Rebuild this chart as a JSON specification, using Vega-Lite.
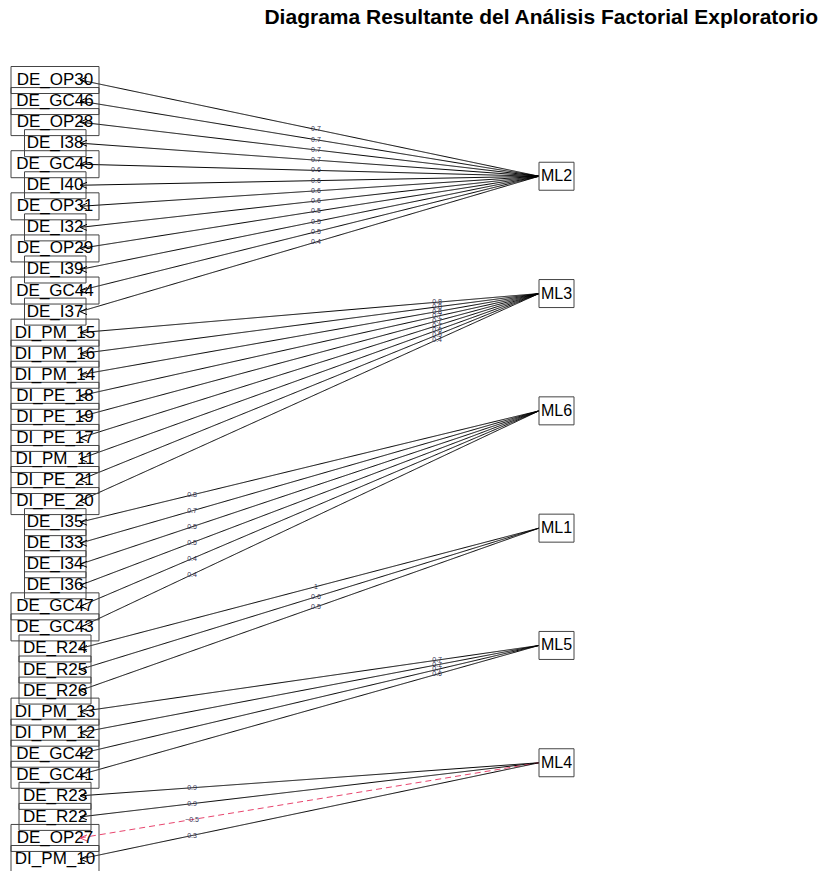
{
  "$schema": "https://vega.github.io/schema/vega-lite/v6.json",
  "width": 822,
  "height": 871,
  "autosize": {"type": "none"},
  "padding": 0,
  "background": "white",
  "config": {"view": {"stroke": null}, "font": "Liberation Sans"},
  "title": {
    "text": "Diagrama Resultante del Análisis Factorial Exploratorio",
    "font": "Liberation Sans",
    "fontSize": 21,
    "fontWeight": "bold",
    "color": "black",
    "anchor": "end",
    "frame": "group",
    "dx": -4,
    "offset": -28
  },
  "datasets": {
    "edges": [
      {"item": "DE_OP30", "factor": "ML2", "loading": 0.7},
      {"item": "DE_GC46", "factor": "ML2", "loading": 0.7},
      {"item": "DE_OP28", "factor": "ML2", "loading": 0.7},
      {"item": "DE_I38", "factor": "ML2", "loading": 0.7},
      {"item": "DE_GC45", "factor": "ML2", "loading": 0.6},
      {"item": "DE_I40", "factor": "ML2", "loading": 0.6},
      {"item": "DE_OP31", "factor": "ML2", "loading": 0.6},
      {"item": "DE_I32", "factor": "ML2", "loading": 0.6},
      {"item": "DE_OP29", "factor": "ML2", "loading": 0.5},
      {"item": "DE_I39", "factor": "ML2", "loading": 0.5},
      {"item": "DE_GC44", "factor": "ML2", "loading": 0.5},
      {"item": "DE_I37", "factor": "ML2", "loading": 0.4},
      {"item": "DI_PM_15", "factor": "ML3", "loading": 0.8},
      {"item": "DI_PM_16", "factor": "ML3", "loading": 0.8},
      {"item": "DI_PM_14", "factor": "ML3", "loading": 0.8},
      {"item": "DI_PE_18", "factor": "ML3", "loading": 0.7},
      {"item": "DI_PE_19", "factor": "ML3", "loading": 0.7},
      {"item": "DI_PE_17", "factor": "ML3", "loading": 0.7},
      {"item": "DI_PM_11", "factor": "ML3", "loading": 0.6},
      {"item": "DI_PE_21", "factor": "ML3", "loading": 0.5},
      {"item": "DI_PE_20", "factor": "ML3", "loading": 0.4},
      {"item": "DE_I35", "factor": "ML6", "loading": 0.8},
      {"item": "DE_I33", "factor": "ML6", "loading": 0.7},
      {"item": "DE_I34", "factor": "ML6", "loading": 0.5},
      {"item": "DE_I36", "factor": "ML6", "loading": 0.5},
      {"item": "DE_GC47", "factor": "ML6", "loading": 0.4},
      {"item": "DE_GC43", "factor": "ML6", "loading": 0.4},
      {"item": "DE_R24", "factor": "ML1", "loading": 1},
      {"item": "DE_R25", "factor": "ML1", "loading": 0.6},
      {"item": "DE_R26", "factor": "ML1", "loading": 0.5},
      {"item": "DI_PM_13", "factor": "ML5", "loading": 0.7},
      {"item": "DI_PM_12", "factor": "ML5", "loading": 0.7},
      {"item": "DE_GC42", "factor": "ML5", "loading": 0.7},
      {"item": "DE_GC41", "factor": "ML5", "loading": 0.6},
      {"item": "DE_R23", "factor": "ML4", "loading": 0.9},
      {"item": "DE_R22", "factor": "ML4", "loading": 0.9},
      {"item": "DE_OP27", "factor": "ML4", "loading": -0.5},
      {"item": "DI_PM_10", "factor": "ML4", "loading": 0.3}
    ],
    "factors": [
      {"factor": "ML2", "rank": 1},
      {"factor": "ML3", "rank": 2},
      {"factor": "ML6", "rank": 3},
      {"factor": "ML1", "rank": 4},
      {"factor": "ML5", "rank": 5},
      {"factor": "ML4", "rank": 6}
    ]
  },
  "layer": [
    {
      "data": {"name": "edges"},
      "transform": [
        {"window": [{"op": "row_number", "as": "row"}]},
        {"lookup": "factor", "from": {"data": {"name": "factors"}, "key": "factor", "fields": ["rank"]}},
        {"calculate": "datum.rank * 39 / 7", "as": "slot"}
      ],
      "mark": {"type": "rule", "strokeWidth": 1},
      "encoding": {
        "x": {"datum": 0, "type": "quantitative", "scale": {"domain": [0, 1], "range": [80, 539], "zero": false, "nice": false}, "axis": null},
        "x2": {"datum": 1},
        "y": {"field": "row", "type": "quantitative", "scale": {"domain": [1, 38], "range": [80, 859], "zero": false, "nice": false}, "axis": null},
        "y2": {"field": "slot"},
        "color": {"condition": {"test": "datum.loading < 0", "value": "#e8456e"}, "value": "black"},
        "strokeDash": {"condition": {"test": "datum.loading < 0", "value": [6, 4]}, "value": [1, 0]}
      }
    },
    {
      "data": {"name": "edges"},
      "transform": [{"window": [{"op": "row_number", "as": "row"}]}],
      "mark": {"type": "point", "filled": false, "opacity": 1, "size": 4, "strokeWidth": 1},
      "encoding": {
        "x": {"datum": 0, "type": "quantitative"},
        "y": {"field": "row", "type": "quantitative"},
        "color": {"value": "#444444"},
        "shape": {
          "condition": [
            {"test": "indexof(datum.item, 'DE_I') == 0", "value": "M-55.5,-13.5H6V13.5H-55.5Z"},
            {"test": "indexof(datum.item, 'DE_R') == 0", "value": "M-61,-13.5H11V13.5H-61Z"}
          ],
          "value": "M-69,-13.5H19V13.5H-69Z"
        }
      }
    },
    {
      "data": {"name": "edges"},
      "transform": [{"window": [{"op": "row_number", "as": "row"}]}],
      "mark": {"type": "text", "fontSize": 17, "align": "center", "baseline": "middle", "dx": -25, "color": "black"},
      "encoding": {
        "x": {"datum": 0, "type": "quantitative"},
        "y": {"field": "row", "type": "quantitative"},
        "text": {"field": "item"}
      }
    },
    {
      "data": {"name": "edges"},
      "transform": [{"window": [{"op": "row_number", "as": "row"}]}],
      "mark": {"type": "point", "filled": false, "opacity": 1, "size": 4, "strokeWidth": 1, "shape": "M7,-3L0,0L7,3"},
      "encoding": {
        "x": {"datum": 0, "type": "quantitative"},
        "y": {"field": "row", "type": "quantitative"},
        "color": {"condition": {"test": "datum.loading < 0", "value": "#e8456e"}, "value": "black"}
      }
    },
    {
      "data": {"name": "edges"},
      "transform": [
        {"window": [{"op": "row_number", "as": "row"}]},
        {"lookup": "factor", "from": {"data": {"name": "factors"}, "key": "factor", "fields": ["rank"]}},
        {"calculate": "datum.rank * 39 / 7", "as": "slot"},
        {"calculate": "[0.514, 0.778, 0.244][(datum.rank - 1) % 3]", "as": "along"},
        {"calculate": "datum.row + datum.along * (datum.slot - datum.row)", "as": "labelRow"}
      ],
      "mark": {"type": "text", "fontSize": 7, "align": "center", "baseline": "middle", "color": "#333355"},
      "encoding": {
        "x": {"field": "along", "type": "quantitative"},
        "y": {"field": "labelRow", "type": "quantitative"},
        "text": {"field": "loading", "type": "quantitative", "format": ".1~f"}
      }
    },
    {
      "data": {"name": "factors"},
      "transform": [{"calculate": "datum.rank * 39 / 7", "as": "slot"}],
      "mark": {"type": "point", "filled": false, "opacity": 1, "size": 4, "strokeWidth": 1, "shape": "M0,-14H35V14H0Z", "color": "#444444"},
      "encoding": {
        "x": {"datum": 1, "type": "quantitative"},
        "y": {"field": "slot", "type": "quantitative"}
      }
    },
    {
      "data": {"name": "factors"},
      "transform": [{"calculate": "datum.rank * 39 / 7", "as": "slot"}],
      "mark": {"type": "text", "fontSize": 16, "align": "left", "baseline": "middle", "dx": 2, "color": "black"},
      "encoding": {
        "x": {"datum": 1, "type": "quantitative"},
        "y": {"field": "slot", "type": "quantitative"},
        "text": {"field": "factor"}
      }
    }
  ]
}
